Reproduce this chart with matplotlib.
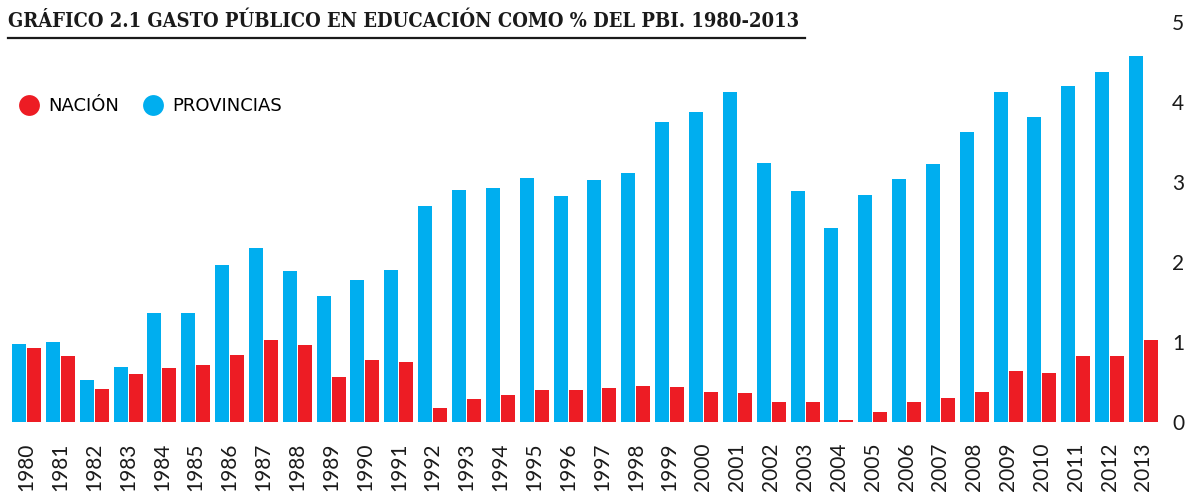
import matplotlib.pyplot as plt
import numpy as np
from matplotlib.lines import Line2D

years = [str(y) for y in range(1980, 2014)]
provincias = [0.98, 1.00, 0.53, 0.69, 1.36, 1.36, 1.96, 2.18, 1.89, 1.58,
              1.78, 1.90, 2.70, 2.90, 2.93, 3.05, 2.83, 3.03, 3.11, 3.75,
              3.88, 4.13, 3.24, 2.89, 2.43, 2.84, 3.04, 3.23, 3.63, 4.13,
              3.81, 4.20, 4.38, 4.58]
nacion = [0.93, 0.82, 0.41, 0.60, 0.68, 0.71, 0.84, 1.03, 0.96, 0.56,
          0.78, 0.75, 0.18, 0.29, 0.34, 0.40, 0.40, 0.43, 0.45, 0.44,
          0.38, 0.36, 0.25, 0.25, 0.03, 0.13, 0.25, 0.30, 0.38, 0.64,
          0.61, 0.83, 0.83, 1.03]

blue = '#00AEEF'
red = '#ED1C24'

W, H = 1187, 498
fig = plt.figure(figsize=(W / 100, H / 100), dpi=100)
ax = fig.add_axes([12 / W, 76 / H, (1158 - 12) / W, 400 / H])

x = np.arange(len(years))
ax.bar(x - 0.2215, provincias, width=0.414, color=blue, linewidth=0)
ax.bar(x + 0.2215, nacion, width=0.414, color=red, linewidth=0)

ax.set_xlim(-0.4285, len(years) - 1 + 0.4285)
ax.set_ylim(0, 5)
ax.yaxis.tick_right()
ax.set_yticks(range(6))
ax.set_xticks(x)
ax.set_xticklabels(years, rotation=90)
ax.tick_params(axis='both', length=0, labelsize=15, colors='#1a1a1a')
ax.tick_params(axis='y', pad=10)
ax.tick_params(axis='x', pad=15)
for lab in ax.get_xticklabels() + ax.get_yticklabels():
    lab.set_family('Lato')
for s in ax.spines.values():
    s.set_visible(False)

# title + underline
fig.text(8 / W, 1 - 21 / H, 'GRÁFICO 2.1 GASTO PÚBLICO EN EDUCACIÓN COMO % DEL PBI. 1980-2013',
         family='DejaVu Serif', fontstretch='condensed', fontweight='bold',
         fontsize=14.45, va='center', ha='left', color='#1a1a1a')
fig.add_artist(Line2D([8 / W, 805 / W], [1 - 38 / H, 1 - 38 / H],
                      color='#1a1a1a', linewidth=1.6))

handles = [Line2D([], [], marker='o', linestyle='none', markersize=15,
                  markerfacecolor=red, markeredgecolor='none'),
           Line2D([], [], marker='o', linestyle='none', markersize=15,
                  markerfacecolor=blue, markeredgecolor='none')]
fig.legend(handles, ['NACIÓN', 'PROVINCIAS'], loc='center left',
           bbox_to_anchor=(4 / W, 1 - 106 / H), ncol=2, frameon=False,
           handletextpad=0.05, columnspacing=0.9, borderaxespad=0,
           prop={'family': 'DejaVu Sans', 'size': 13})

fig.savefig('out.png', dpi=100)
